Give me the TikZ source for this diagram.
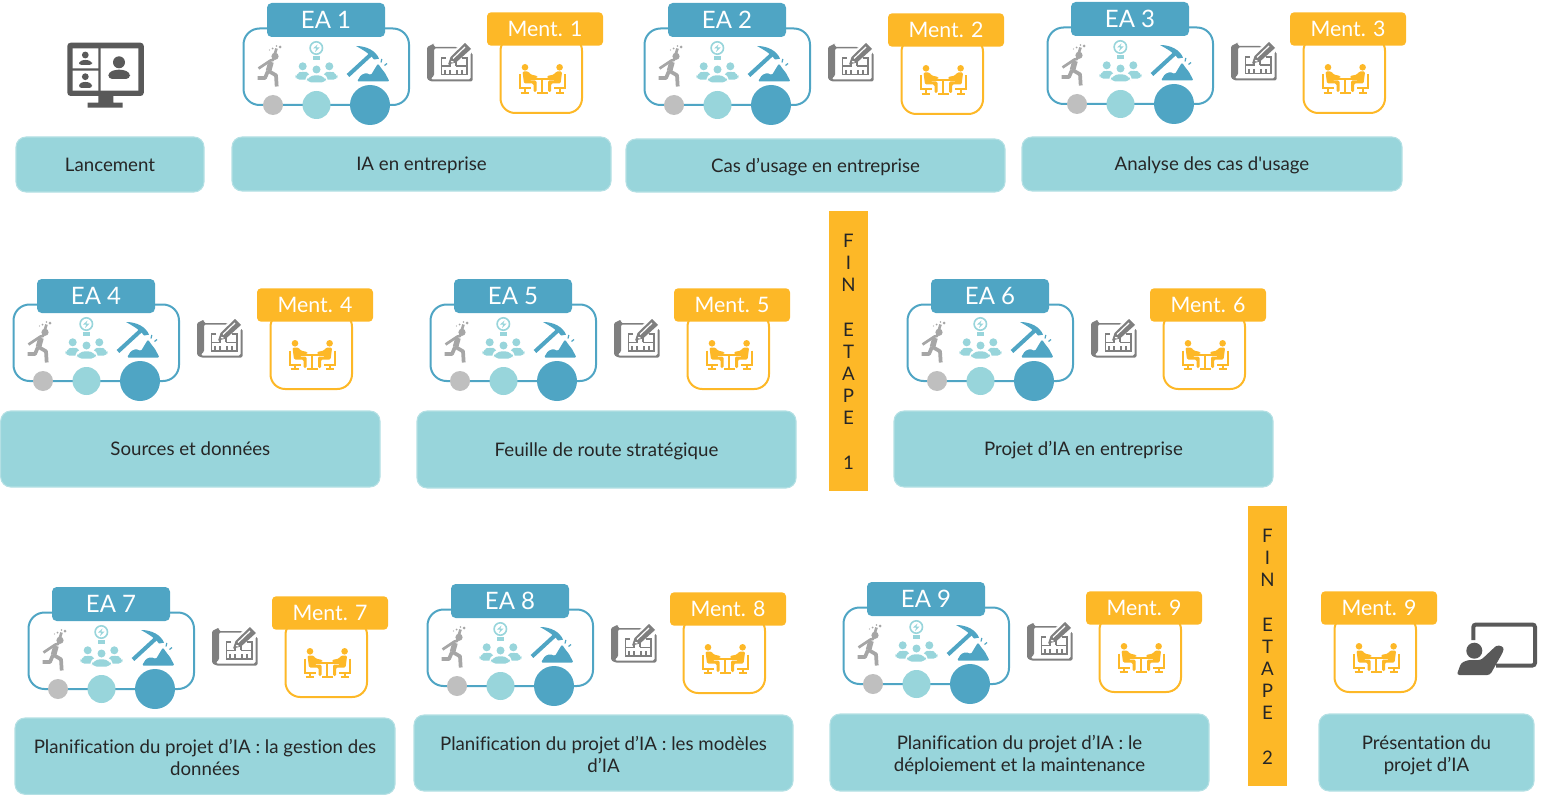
\documentclass[tikz,border=0pt]{standalone}
\usepackage{fontspec}
\setmainfont{Lato}[Ligatures=NoCommon]
\newfontfamily\apfont{Lato}[Ligatures=NoCommon]
\definecolor{teal}{HTML}{98D5DB}
\definecolor{tealb}{HTML}{B4E0E4}
\definecolor{blueb}{HTML}{4FA5C4}
\definecolor{orng}{HTML}{FDB827}
\definecolor{lgray}{HTML}{BFBFBF}
\definecolor{rgray}{HTML}{A6A6A6}
\definecolor{mgray}{HTML}{7F7F7F}
\definecolor{dgray}{HTML}{595959}
\definecolor{txt}{HTML}{262626}
\tikzset{
  lab/.style={fill=teal,draw=tealb,line width=0.8pt,rounded corners=7.5pt,inner sep=0pt,text=txt,font=\fontsize{14}{16.5}\selectfont},
  eahead/.style={fill=blueb,rounded corners=3.5pt,inner sep=0pt,text=white,font=\fontsize{18}{20}\selectfont,minimum width=88.5pt,minimum height=25.5pt},
  menthead/.style={fill=orng,rounded corners=3pt,inner sep=0pt,text=white,font=\fontsize{16}{20}\selectfont,minimum width=87pt,minimum height=25pt},
  finbar/.style={fill=orng,inner sep=0pt,text=txt,minimum width=29.25pt,minimum height=210pt,font=\fontsize{14}{16.65}\selectfont},
}
% #1 name #2 x1 #3 y1 #4 x2 #5 y2 #6 text
\newcommand{\labbox}[6]{\node[lab,minimum width={(#4-#2)*0.75pt},minimum height={(#5-#3)*0.75pt}] (#1) at ({(#2+#4)/2},{(#3+#5)/2}) {\raisebox{-5.2pt}[0pt][0pt]{#6}};}
\newcommand{\labtwo}[7]{\node[lab,minimum width={(#4-#2)*0.75pt},minimum height={(#5-#3)*0.75pt}] (#1) at ({(#2+#4)/2},{(#3+#5)/2}) {\raisebox{-14.3pt}[0pt][0pt]{\begin{tabular}[b]{@{}c@{}}#6\\#7\end{tabular}}};}
\newcommand{\finletters}[1]{\raisebox{-2.2pt}[\height][\depth]{\begin{tabular}{@{}c@{}}F\\I\\N\\\mbox{}\\E\\T\\A\\P\\E\\\mbox{}\\#1\end{tabular}}}
\newcommand{\mentperson}{%
  \fill (525,67.3) circle (3.3);
  \fill[rounded corners=1pt] (522.5,71.5) -- (528.5,71.5) -- (530.5,74.5) -- (537.5,76) -- (537.5,78) -- (529.5,78) -- (529.5,80.5) -- (536.5,80.5) -- (536.5,92) -- (533.5,92) -- (533.5,83.5) -- (524,83.5) -- cycle;
  \draw[line width=1.5pt] (520,74.5) -- (520,88.5) -- (530.5,88.5) (524.5,88.5) -- (524.5,93.3) (520.7,93.3) -- (528.5,93.3);
}
\newcommand{\mentbody}[3]{% name, x, y of header top-left
  \begin{scope}[shift={(#2-487,#3-13)}]
    \draw[orng,line width=1.5pt,fill=white,rounded corners=11pt] (500.5,36) rectangle (582,113);
    \begin{scope}[orng]
      \draw[line width=1.5pt] (529,78.7) -- (555.6,78.7) (542.3,78.7) -- (542.3,92.8) (537,93) -- (547.6,93);
      \mentperson
      \begin{scope}[cm={-1,0,0,1,(1084.6,0)}]
        \mentperson
      \end{scope}
    \end{scope}
  \end{scope}
}
\newcommand{\mentblock}[4]{% name, x, y, label
  \mentbody{#1}{#2}{#3}
  \node[menthead] (#1) at ({#2+58},{#3+16}) {#4};
}
\newcommand{\eablock}[4]{% name, x, y, label
  \begin{scope}[shift={(#2-267,#3-3)}]
    \draw[blueb,line width=1.5pt,fill=white,rounded corners=12pt] (243.5,28.5) rectangle (409,105);
    % runner
    \begin{scope}[rgray]
      \fill (275,56.3) circle (3.6);
      \draw[line width=4.2pt,line join=round] (271,62) -- (268.5,71);
      \draw[line width=2.8pt,line join=round] (268.5,71) -- (276,75.3) -- (276.7,86.5);
      \draw[line width=2.8pt,line join=round] (268,71) -- (265,78) -- (257.5,78);
      \draw[line width=2pt,line join=round] (276.5,48.5) -- (273,60) -- (270.5,60.5) -- (258.5,68.5);
      \fill (280,47) circle (1.5) (272.5,48.5) circle (1) (276.5,46) circle (0.9) (269.5,50) circle (0.7);
    \end{scope}
    % people and bulb
    \begin{scope}[teal]
      \draw[line width=1.2pt] (316.3,48) circle (6.2);
      \fill (313,48.5) -- (317.5,44.5) -- (316.3,47.5) -- (319.5,47.5) -- (315,52) -- (316.3,48.5) -- cycle;
      \fill (313,56) rectangle (319.7,59.7);
      \fill (302.7,66.3) circle (4) (329.3,66.3) circle (4);
      \fill[rounded corners=3.5pt] (295,79.7) -- (296,73.5) -- (303,71) -- (310,73) -- (311,79.7) -- cycle;
      \fill[rounded corners=3.5pt] (322,79.7) -- (323,73) -- (330,71) -- (337,73.5) -- (338,79.7) -- cycle;
      \fill[white,rounded corners=3pt] (305,84) -- (306,75) -- (316.5,72.5) -- (327,75) -- (328,84) -- cycle;
      \fill[rounded corners=3.5pt] (306.7,82.5) -- (307.5,77) -- (316.5,74.7) -- (325.5,77) -- (326.2,82.5) -- cycle;
      \fill (316.5,69.5) circle (4);
    \end{scope}
    % pick
    \begin{scope}[blueb]
      \draw[line width=3pt] (348,75.5) -- (372.5,53);
      \fill (356,46) .. controls (367,46) and (376,51) .. (379,58.7) -- (374,59.5) .. controls (369,53) and (363,50) .. (356,46) -- cycle;
      \fill[rounded corners=1pt] (357,81.5) -- (361,75) -- (366,73) -- (371,75) -- (374,70) -- (378,63.5) -- (381,68) -- (385,73) -- (389.5,81.5) -- cycle;
      \draw[line width=0.9pt] (381,62.5) -- (381.8,59) (384.5,65.5) -- (387,63.5);
    \end{scope}
    % circles
    \fill[lgray] (273,105) circle (10);
    \fill[teal] (316.5,105) circle (14);
    \fill[blueb] (370,105) circle (20);
    % blueprint
    \begin{scope}[mgray]
      \fill[rounded corners=1pt] (427,47) -- (433,44) -- (434,44) -- (434,47) -- (457,47) -- (457,48.5) -- (434,48.5) -- (434,76) -- (431,78) -- (431,79.5) -- (470.5,79.5) -- (470.5,53) -- (472.5,53) -- (472.5,81.5) -- (431,81.5) -- (427,79) -- cycle;
      \draw[line width=1.2pt] (446,58) -- (441.5,58) -- (441.5,74.7) -- (467,74.7) -- (467,58) -- (462,58) (441.5,66.3) -- (450,66.3) -- (450,61) (450,70) -- (450,74.7) (457,70) -- (457,74.7) (456,66.3) -- (467,66.3) (456,66.3) -- (456,62) (445,70) -- (445,74.7) (462,70) -- (462,74.7);
      \fill (448,64.5) -- (450.5,57) -- (465,43) -- (471,49) -- (456,62.5) -- cycle;
      \draw[white,line width=0.9pt] (453,58.5) -- (465,47) (451,61.5) -- (453.5,62);
    \end{scope}
    \node[eahead] (#1) at (326,20) {#4};
  \end{scope}
}
\begin{document}
\begin{tikzpicture}[x=0.75pt,y=-0.75pt]
\useasboundingbox (0,0) rectangle (1541,795);
% launch monitor
\begin{scope}[dgray]
  \fill[rounded corners=2.5pt] (67.3,42.7) rectangle (143.8,96);
  \fill[white] (72.7,48.3) rectangle (98.3,68.3) (72.7,70.7) rectangle (98.3,90.7) (100.7,48.3) rectangle (138.3,90.7);
  \fill (98.3,96) rectangle (113.3,102.7) (87.7,102.7) rectangle (122.7,107.7);
  \fill (85.3,55) circle (3.4) (85.3,76.7) circle (3.4) (119,62.3) circle (6);
  \fill[rounded corners=2pt] (79,65) -- (79,61.5) -- (85.3,59.5) -- (92,61.5) -- (92,65) -- cycle;
  \fill[rounded corners=2pt] (79,88) -- (79,83.5) -- (85.3,81.5) -- (92,83.5) -- (92,88) -- cycle;
  \fill[rounded corners=3pt] (108.3,79) -- (108.3,72) -- (119,69) -- (130,72) -- (130,79) -- cycle;
\end{scope}
% row 1
\eablock{ea1}{267}{3}{EA 1}
\mentblock{m1}{487}{13}{Ment. 1}
\eablock{ea2}{668}{3}{EA 2}
\mentblock{m2}{888}{14}{Ment. 2}
\eablock{ea3}{1071}{2}{EA 3}
\mentblock{m3}{1290}{13}{Ment. 3}
\labbox{l0}{16}{137}{204}{192}{Lancement}
\labbox{l1}{232}{137}{611}{191}{IA en entreprise}
\labbox{l2}{626}{139}{1005}{192}{Cas d’usage en entreprise}
\labbox{l3}{1022}{137}{1402}{191}{Analyse des cas d{\apfont\char39}usage}
% row 2
\eablock{ea4}{37}{279}{EA 4}
\mentblock{m4}{257}{289}{Ment. 4}
\eablock{ea5}{454}{279}{EA 5}
\mentblock{m5}{674}{289}{Ment. 5}
\eablock{ea6}{931}{279}{EA 6}
\mentblock{m6}{1150}{289}{Ment. 6}
\labbox{l4}{0.7}{411}{380}{487}{Sources et données}
\labbox{l5}{417}{411}{796}{488}{Feuille de route stratégique}
\labbox{l6}{894}{411}{1273}{487}{Projet d’IA en entreprise}
\node[finbar] (fin1) at (848.5,351) {\finletters{1}};
% row 3
\eablock{ea7}{52}{587}{EA 7}
\mentblock{m7}{272}{597}{Ment. 7}
\eablock{ea8}{451}{584}{EA 8}
\mentblock{m8}{670}{593}{Ment. 8}
\eablock{ea9}{867}{582}{EA 9}
\mentblock{m9}{1086}{592}{Ment. 9}
\mentblock{m10}{1321}{592}{Ment. 9}
\labtwo{l7}{15}{718}{395}{794.3}{Planification du projet d’IA : la gestion des}{données}
\labtwo{l8}{414}{715}{793}{791}{Planification du projet d’IA : les modèles}{d’IA}
\labtwo{l9}{830}{714}{1209}{791}{Planification du projet d’IA : le}{déploiement et la maintenance}
\labtwo{l10}{1319}{714}{1534}{791}{Présentation du}{projet d’IA}
\node[finbar] (fin2) at (1267.5,646) {\finletters{2}};
% presenter
\begin{scope}[dgray]
  \draw[line width=3pt,rounded corners=2pt] (1473.3,640) -- (1473.3,624.5) -- (1535,624.5) -- (1535,665.5) -- (1496,665.5);
  \fill (1474.3,650.7) circle (8);
  \fill[rounded corners=2pt] (1456.7,675) -- (1461,663) -- (1468,660) -- (1481,660) -- (1497,645) -- (1504,647) -- (1503,652) -- (1490,675) -- cycle;
\end{scope}
\end{tikzpicture}
\end{document}
